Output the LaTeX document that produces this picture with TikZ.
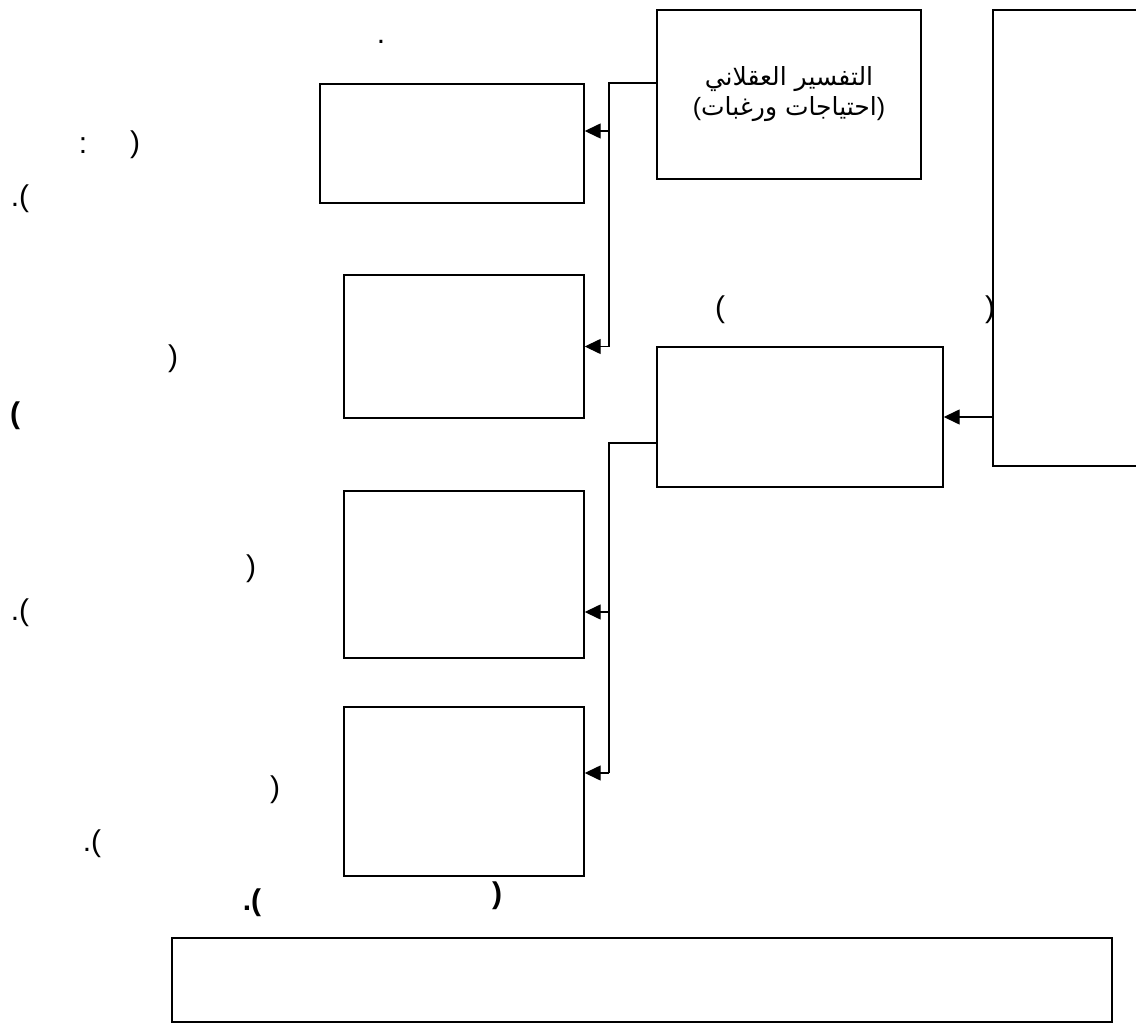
\documentclass[tikz,border=0pt]{standalone}
\usepackage{fontspec}
\setmainfont{Liberation Sans}
\newfontfamily\arabicfont[Script=Arabic]{DejaVu Sans}
\TeXXeTstate=1
\usetikzlibrary{arrows.meta}

\tikzset{
  box/.style={draw, inner sep=0pt},
  punct/.style={font=\fontsize{15}{18}\selectfont, anchor=base, inner sep=0pt},
  boldpunct/.style={punct, font=\fontsize{15}{18}\selectfont\bfseries}
}

\begin{document}
\begin{tikzpicture}[x=0.5pt, y=-0.5pt, line width=0.7pt, >={Triangle[length=8pt,width=7.5pt]}]
        % Fixing the page
        \useasboundingbox (0,0) rectangle (1136,1027);

        % Defining the coordinates
        \coordinate (t1) at (609,83);
        \coordinate (t2) at (609,131);
        \coordinate (t3) at (609,443);
        \coordinate (t4) at (609,612);
        \coordinate (t5) at (609,773);

        % Drawing the boxes
        \node[box, minimum width=132pt, minimum height=84.5pt, align=center,
              font=\arabicfont\fontsize{12.5}{15}\selectfont] (rational) at (789,94.5)
              {\beginR التفسير العقلاني\endR\\{\normalfont(}\beginR احتياجات ورغبات\endR{\normalfont)}};
        \node[box, minimum width=88.5pt, minimum height=228pt] (tall) at (1081.5,238) {};
        \node[box, minimum width=132pt, minimum height=59.5pt] (boxA) at (452,143.5) {};
        \node[box, minimum width=120pt, minimum height=71.5pt] (boxB) at (464,346.5) {};
        \node[box, minimum width=143pt, minimum height=70pt] (mid) at (800,417) {};
        \node[box, minimum width=120pt, minimum height=83.5pt] (boxD) at (464,574.5) {};
        \node[box, minimum width=120pt, minimum height=84.5pt] (boxE) at (464,791.5) {};
        \node[box, line width=1pt, minimum width=470pt, minimum height=42pt] (bottom) at (642,980) {};

        % Drawing lines with arrows
        \draw[->] (rational.west |- t1) -- (t1) |- (boxB.east);
        \draw[->] (t2) -- (boxA.east |- t2);
        \draw[->] (tall.west |- mid.east) -- (mid.east);
        \draw (mid.west |- t3) -- (t3) -- (t5);
        \draw[->] (t4) -- (boxD.east |- t4);
        \draw[->] (t5) -- (boxE.east |- t5);

        % Adding labels
        \node[punct] (p1) at (381,44) {.};
        \node[punct] (p2) at (83,154) {:};
        \node[punct] (p3) at (135,153) {)};
        \node[punct] (p4) at (20,207) {.(};
        \node[punct] (p5) at (173,366) {)};
        \node[boldpunct] (p6) at (15,423) {(};
        \node[punct] (p7) at (251,576) {)};
        \node[punct] (p8) at (20,620) {.(};
        \node[punct] (p9) at (275,797) {)};
        \node[punct] (p10) at (92,851) {.(};
        \node[boldpunct] (p11) at (252,910) {.(};
        \node[boldpunct] (p12) at (497,903) {)};
        \node[punct] (p13) at (720,318) {(};
        \node[punct] (p14) at (990,318) {)};
    \end{tikzpicture}
\end{document}
